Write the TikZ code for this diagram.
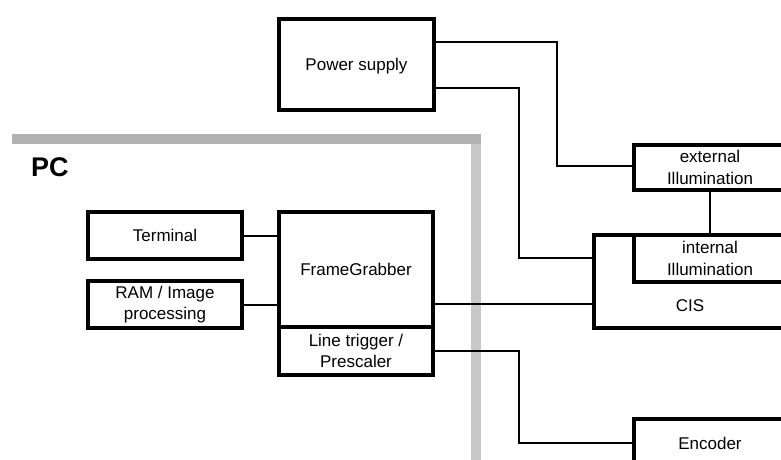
\documentclass[tikz,border=0pt]{standalone}
\usepackage{fontspec}
\setmainfont{Liberation Sans}
\begin{document}
\begin{tikzpicture}[x=1pt,y=-1pt,
  blk/.style={draw=black, line width=4.5pt, inner sep=0pt, align=center,
    font=\fontsize{17}{21.5}\selectfont},
  lbl/.style={inner sep=0pt, align=center, font=\fontsize{17}{21.5}\selectfont},
  wire/.style={draw=black, line width=2pt},
  pcbar/.style={line width=10pt}]
\useasboundingbox (0,0) rectangle (781,459);
\clip (0,0) rectangle (781,459);
% PC frame
\draw[pcbar, draw={rgb,255:red,200;green,200;blue,200}] (476,139) -- (476,470);
\draw[pcbar, draw={rgb,255:red,178;green,178;blue,178}] (12,139) -- (481,139);
\node[anchor=base west, inner sep=0pt, font=\fontsize{27}{30}\selectfont\bfseries] (pc) at (31,176) {PC};
% blocks
\node[blk, minimum width=155pt, minimum height=91pt] (ps) at (356.5,64.5) {};
\node[lbl] (pst) at (356.5,66) {Power supply};
\node[blk, minimum width=154pt, minimum height=47pt] (term) at (165,235.5) {Terminal};
\node[blk, minimum width=154pt, minimum height=47pt] (ram) at (165,304.5) {RAM / Image\\processing};
\node[blk, minimum width=154pt, minimum height=115pt] (fg) at (356,269.5) {FrameGrabber};
\node[blk, minimum width=154pt, minimum height=48pt] (lt) at (356,351) {Line trigger /\\Prescaler};
\node[blk, minimum width=152pt, minimum height=45pt] (ext) at (710,167.5) {external\\Illumination};
\node[blk, minimum width=192pt, minimum height=93pt] (cis) at (690,281.5) {};
\node[lbl] (cist) at (690,306) {CIS};
\node[blk, minimum width=152pt, minimum height=47pt] (int) at (710,258.5) {internal\\Illumination};
\node[blk, minimum width=152pt, minimum height=51pt] (enc) at (710,444.5) {};
\node[lbl] (enct) at (710,443) {Encoder};
% connectors
\coordinate (p1) at (557,166);
\coordinate (p2) at (519,258);
\coordinate (p3) at (519,443);
\draw[wire] (ps.east |- 0,42) -| (p1) -- (ext.west |- p1);
\draw[wire] (ps.east |- 0,88) -| (p2) -- (cis.west |- p2);
\draw[wire] (term.east) -- (fg.west |- term.east);
\draw[wire] (ram.east) -- (fg.west |- ram.east);
\draw[wire] (fg.east |- 0,304) -- (cis.west |- 0,304);
\draw[wire] (lt.east) -| (p3) -- (enc.west |- p3);
\draw[wire] (ext.south) -- (int.north);
\end{tikzpicture}
\end{document}
